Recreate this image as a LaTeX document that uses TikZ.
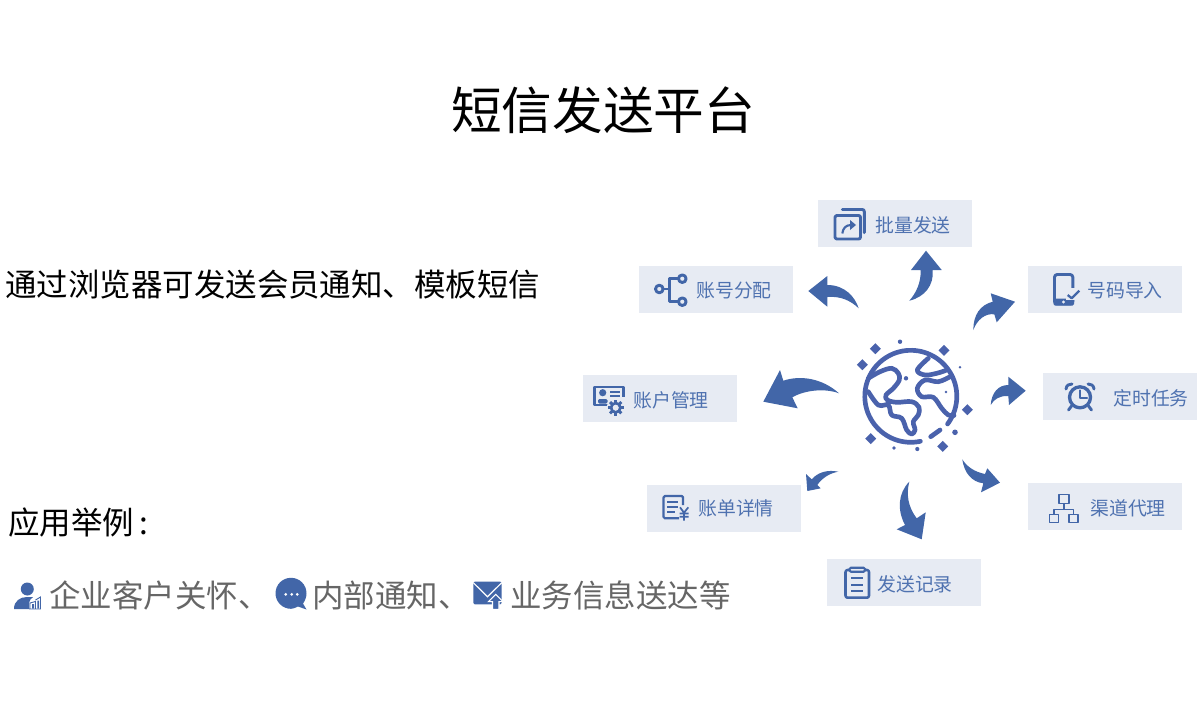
\documentclass[tikz,border=0pt]{standalone}
\usepackage{fontspec}
\setmainfont{Noto Sans CJK SC}
\definecolor{blu}{HTML}{4266A8}
\definecolor{lab}{HTML}{4F72B0}
\definecolor{boxc}{HTML}{E7EBF3}
\definecolor{gry}{HTML}{666666}
\definecolor{glb}{HTML}{4A62AC}
\tikzset{
  box/.style={fill=boxc,minimum width=115pt,minimum height=35.25pt,inner sep=0pt,anchor=north west},
  lbl/.style={text=lab,font=\fontsize{14.15}{16}\selectfont,anchor=west,inner sep=0pt},
  big/.style={font=\fontsize{23.6}{26}\selectfont,anchor=west,inner sep=0pt},
  arr/.style={fill=blu,draw=none},
  ic/.style={draw=blu,line width=2.2pt,line join=round,line cap=round},
  ict/.style={draw=blu,line width=1.3pt,line join=round},
  gl/.style={draw=glb,line width=3.5pt,line cap=round,line join=round},
  gd/.style={fill=glb,draw=none}
}
\begin{document}
\begin{tikzpicture}[x=0.75pt,y=-0.75pt]
\useasboundingbox (0,0) rectangle (1201,700);
% title and left texts
\node[font=\fontsize{38}{40}\selectfont,inner sep=0pt] (title) at (603,110.5) {短信发送平台};
\node[big] (t1) at (5,285) {通过浏览器可发送会员通知、模板短信};
\node[big] (t2) at (8,523) {应用举例\hspace{4pt}:};
\node[big,text=gry] (t3) at (49,595) {企业客户关怀、};
\node[big,text=gry] (t4) at (312,595) {内部通知、};
\node[big,text=gry] (t5) at (510,595) {业务信息送达等};
% boxes
\node[box] (b1) at (818,200) {};
\node[box] (b2) at (639,266) {};
\node[box] (b3) at (1028,266) {};
\node[box] (b4) at (1043,373) {};
\node[box] (b5) at (583,375) {};
\node[box] (b6) at (647,485) {};
\node[box] (b7) at (1028,483) {};
\node[box] (b8) at (827,559) {};
\node[lbl] (l1) at (875,225) {批量发送};
\node[lbl] (l2) at (696,291) {账号分配};
\node[lbl] (l3) at (1087,291) {号码导入};
\node[lbl] (l4) at (1113,398.5) {定时任务};
\node[lbl] (l5) at (633,400) {账户管理};
\node[lbl] (l6) at (698,508) {账单详情};
\node[lbl] (l7) at (1090,508) {渠道代理};
\node[lbl] (l8) at (877,584) {发送记录};
% arrows
\path[arr] (909.3,300.7) .. controls (925,297) and (934,285) .. (932.7,270) -- (941.7,270) -- (926,250.7) -- (911,270) -- (920.7,270) .. controls (921,283) and (916,293) .. (909.3,300.7) -- cycle;
\path[arr] (858.7,308.3) .. controls (855,297) and (845,285) .. (827.3,285) -- (827.3,276) -- (808.3,291) -- (827.3,306.7) -- (827.3,297) .. controls (840,296) and (850,300) .. (858.7,308.3) -- cycle;
\path[arr] (973.3,330) .. controls (973.3,315) and (980,305) .. (992.7,301.7) -- (990.7,293.3) -- (1015,301.7) -- (996.7,322.3) -- (994.3,314.3) .. controls (985,313) and (977,320) .. (973.3,330) -- cycle;
\path[arr] (990.7,405) .. controls (991.5,393) and (998,385) .. (1008.3,385) -- (1008.3,376.7) -- (1025.7,390.7) -- (1009,405) -- (1008.3,396) .. controls (1000,395.5) and (994,399) .. (990.7,405) -- cycle;
\path[arr] (962.3,459.3) .. controls (967,467) and (975,472) .. (985,474) -- (987.3,468.3) -- (1000,482.7) -- (981,492.3) -- (983.3,483.3) .. controls (972,482) and (964,473) .. (962.3,459.3) -- cycle;
\path[arr] (909.3,481.7) .. controls (898,493) and (897,510) .. (905,525) -- (896.7,529.3) -- (921.7,539.3) -- (925.7,512.3) -- (916.7,518.3) .. controls (908,507) and (906,494) .. (909.3,481.7) -- cycle;
\path[arr] (838.3,471.7) .. controls (828,469.5) and (818,472) .. (811.7,479.3) -- (806,474) -- (807.3,491) -- (820.7,488.3) -- (817.3,485) .. controls (822,478) and (830,473) .. (838.3,471.7) -- cycle;
\path[arr] (839,393.3) .. controls (822,378) and (800,375) .. (783.3,380.7) -- (780,370) -- (763.3,401.7) -- (797.7,408.3) -- (792.3,397.3) .. controls (805,390) and (825,388) .. (839,393.3) -- cycle;
% globe
\draw[gl] plot[smooth,domain=78:397,samples=80] ({910.8+46*cos(\x)},{396.3+46*sin(\x)});
\draw[gl] (930.7,436.7) -- (940,430);
\draw[gl] plot[smooth,tension=0.6] coordinates {(868.3,378.3) (880,371.7) (891.7,368.3) (898.3,373.3) (899.3,380) (893.3,388.3) (886,395) (887.3,400) (896.7,402.3) (911.7,401.7) (919,407.3) (918.3,415) (913.3,421.7) (915,430) (911.7,434) (906.7,430) (901.7,418.3) (891.7,415) (888.3,405) (878.3,405) (868.3,391.7)};
\draw[gl] plot[smooth,tension=0.6] coordinates {(928.3,358.3) (917.3,370) (925,375) (936.7,373.3) (945.5,370.5)};
\draw[gl] plot[smooth,tension=0.6] coordinates {(950,376.7) (938.3,381.7) (925,380) (917.3,388.3) (921.7,396.7) (933.3,397.3) (941.7,408.3) (948.3,415) (954,415.5)};
\foreach \dx/\dy/\r in {900/341.7/2.2,906/378.3/2.2,960/367.3/1.4,946/392/1.4,955/432.3/2.8,894/448/1.8,917.3/449/2.1}
  \fill[glb] (\dx,\dy) circle[radius=\r];
\foreach \sx/\sy/\s in {875.3/348.7/5.5,944/350.3/5.5,862.3/364.7/5.5,967.3/409.7/5.5,870.7/438.7/5.5,942.7/446.3/5.5}
  \path[gd] (\sx,\sy-\s) .. controls (\sx+2.3,\sy-2.3) .. (\sx+\s,\sy) .. controls (\sx+2.3,\sy+2.3) .. (\sx,\sy+\s) .. controls (\sx-2.3,\sy+2.3) .. (\sx-\s,\sy) .. controls (\sx-2.3,\sy-2.3) .. (\sx,\sy-\s) -- cycle;
% icon: batch send
\draw[ic,rounded corners=1.5pt] (835,215.5) rectangle (860.5,239);
\draw[ic,rounded corners=1.5pt] (842.3,209.5) -- (864.3,209.5) -- (864.3,232.7);
\draw[ict,line width=1.6pt] (842.3,233.5) .. controls (843,228) and (846,225) .. (851,225);
\fill[blu] (850,220) -- (856,225) -- (850,230) -- cycle;
% icon: account allocate
\draw[ic] (659.3,289) circle[radius=3.8] (682.3,278.7) circle[radius=3.8] (682.3,301.7) circle[radius=3.8];
\draw[ic] (663.5,289) -- (669.3,289) (678.2,278.7) -- (669.3,278.7) -- (669.3,301.7) -- (678.2,301.7);
% icon: phone
\draw[ic,rounded corners=2pt] (1054.5,274.5) rectangle (1072.8,304);
\fill[blu,rounded corners=1pt] (1053.5,298.5) rectangle (1074,305.5);
\fill[boxc] (1063.5,302) circle[radius=1.6];
\fill[boxc] (1066,288) rectangle (1081,300);
\draw[ict,line width=1.7pt] (1067.7,295) -- (1071.7,298.3) -- (1079.3,290.7);
% icon: clock
\draw[ic,line width=2.5pt] (1080,397.3) circle[radius=10.5];
\draw[ic,line width=1.8pt] (1080,390.5) -- (1080,398) -- (1087,398);
\draw[ic] (1066,389) .. controls (1066.5,385) and (1069,384) .. (1072,384);
\draw[ic] (1094,389) .. controls (1093.5,385) and (1091,384) .. (1088,384);
\draw[ic] (1071.5,406) -- (1068.5,410) (1088.5,406) -- (1091.5,410);
% icon: account management
\draw[ic,line width=1.8pt,line cap=butt] (608,405) -- (594.3,405) -- (594.3,386.7) -- (623.3,386.7) -- (623.3,397);
\fill[blu] (602.7,392.7) circle[radius=3.6];
\fill[blu,rounded corners=1pt] (598,403.5) -- (598,399) -- (607.5,399) -- (607.5,403.5) -- cycle;
\draw[ict] (610,391.7) -- (620,391.7) (610,396) -- (620,396);
\fill[boxc] (615.7,407.7) circle[radius=9];
\foreach \a in {0,45,...,315}
  \draw[blu,line width=2.2pt] ({615.7+3*cos(\a)},{407.7+3*sin(\a)}) -- ({615.7+8*cos(\a)},{407.7+8*sin(\a)});
\draw[blu,line width=2.2pt] (615.7,407.7) circle[radius=4.5];
\fill[boxc] (615.7,407.7) circle[radius=3];
% icon: bill
\draw[ic,line width=1.7pt,line cap=butt,rounded corners=1pt] (679,518.3) -- (663.6,518.3) -- (663.6,496) -- (683,496) -- (683,505);
\draw[ict,line width=1.2pt] (667.3,501.7) -- (678,501.7) (667.3,506.7) -- (678,506.7) (667.3,511.7) -- (674.5,511.7);
\draw[ict,line width=1.3pt] (680,507.3) -- (684,512.7) -- (688.3,507.3) (684,512.7) -- (684,520.5) (679.5,513.5) -- (688.5,513.5) (679.5,516.8) -- (688.5,516.8);
% icon: channels
\draw[ict,line width=1.1pt] (1059,494.7) rectangle (1069,503.3) (1049.3,514.3) rectangle (1058.7,522.7) (1069,514.3) rectangle (1078,522.7);
\draw[ict,line width=1.1pt] (1064,503.3) -- (1064,509.3) (1054,514.3) -- (1054,509.3) -- (1073.5,509.3) -- (1073.5,514.3);
% icon: record
\draw[ic,line width=1.9pt,rounded corners=1.5pt] (845.5,570) rectangle (869,597.7);
\draw[ic,line width=1.6pt,fill=boxc,rounded corners=1pt] (849.5,567.7) rectangle (865,571.7);
\draw[ict,line width=1.4pt] (851,578.3) -- (863.3,578.3) (851,585) -- (863.3,585) (851,590.7) -- (863.3,590.7);
% bottom icons
\fill[blu] (27.3,589) circle[radius=6.5];
\fill[blu] (14,609) .. controls (14,601) and (20,597) .. (27,597) -- (33,597) .. controls (31,599) and (29.5,600) .. (29.3,602) -- (29.3,609) -- cycle;
\draw[blu,line width=0.7pt] (30,609) -- (30,603) -- (35.5,601.5) -- (35.5,609) (35.5,600) -- (40.5,597) -- (40.5,609) -- (29,609);
\fill[blu] (32,604) rectangle (34,608.5) (37.3,600.5) rectangle (39,608.5);
\fill[blu] (306.5,609.5) -- (298,606.5) .. controls (295,608) and (293,608.8) .. (291,608.8) .. controls (282.4,608.8) and (275.5,601.9) .. (275.5,593.3) .. controls (275.5,584.7) and (282.4,577.8) .. (291,577.8) .. controls (299.6,577.8) and (306.5,584.7) .. (306.5,593.3) .. controls (306.5,597) and (305,601) .. (303,603.5) -- cycle;
\foreach \bx in {285.7,291.7,297.3} \fill[white] (\bx,594.3) circle[radius=1.5];
\fill[blu,rounded corners=1pt] (473.3,581.7) rectangle (501.7,604.3);
\draw[white,line width=0.9pt] (473.3,582.7) -- (487.5,596.7) -- (501.7,582.7);
\path[fill=blu,draw=white,line width=0.8pt] (495.7,594.3) -- (503,601.7) -- (499,601.7) -- (499,609.3) -- (492.5,609.3) -- (492.5,601.7) -- (488.3,601.7) -- cycle;
\end{tikzpicture}
\end{document}
